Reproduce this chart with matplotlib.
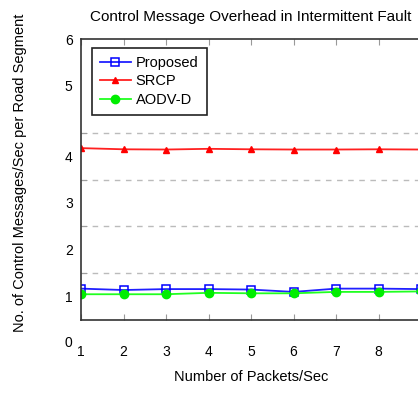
import matplotlib
matplotlib.use("Agg")
import matplotlib.pyplot as plt
from matplotlib.ticker import NullFormatter

plt.rcParams['font.family'] = ['Liberation Sans', 'DejaVu Sans']

packets = [1, 2, 3, 4, 5, 6, 7, 8, 9]
proposed = [1.17, 1.14, 1.16, 1.16, 1.15, 1.10, 1.17, 1.17, 1.16]
srcp = [4.17, 4.145, 4.14, 4.155, 4.145, 4.14, 4.14, 4.145, 4.14]
aodv_d = [1.05, 1.05, 1.05, 1.08, 1.07, 1.07, 1.10, 1.10, 1.11]

ytick_vals = [1, 2, 3, 4, 5.5, 6.5]
ytick_labels = ["1", "2", "3", "4", "5", "6"]
grid_vals = [1.5, 2.5, 3.5, 4.5, 5.5]

fig = plt.figure(figsize=(4.18, 3.94), dpi=100)
ax = fig.add_axes([81/418, 74/394, 340/418, 281/394])

ax.plot(packets, proposed, color='#2020ff', lw=1.3, marker='s', ms=5.2,
        mfc='none', mec='#0000ff', mew=1.1, label='Proposed')
ax.plot(packets, srcp, color='#ff2020', lw=1.3, marker='^', ms=4.5,
        mfc='#ff0000', mec='#ff0000', label='SRCP')
ax.plot(packets, aodv_d, color='#20ff20', lw=1.3, marker='o', ms=6,
        mfc='#00ee00', mec='#00ee00', label='AODV-D')

ax.set_xlim(1, 9)
ax.set_ylim(0.5, 6.5)
ax.set_xticks(packets)
ax.tick_params(axis='x', direction='in', top=True, length=4, width=0.8,
               color='#999999', pad=18, labelsize=10)

ax.set_yticks(ytick_vals, ytick_labels)
ax.set_yticks(grid_vals, minor=True)
ax.yaxis.set_minor_formatter(NullFormatter())
ax.tick_params(axis='y', which='major', length=0, pad=6, labelsize=10)
ax.tick_params(axis='y', which='minor', direction='in', length=4, color='#999999')
ax.text(-0.025, 0.0, "0", transform=ax.get_yaxis_transform(), ha='right',
        va='center', fontsize=10, clip_on=False)
ax.grid(True, axis='y', which='minor', linestyle=(0, (4, 4)), color='#bbbbbb', lw=1)
ax.grid(False, axis='y', which='major')

for s in ax.spines.values():
    s.set_color('#333333')
    s.set_linewidth(1.2)

ax.set_title("Control Message Overhead in Intermittent Fault", fontsize=11, pad=13)
ax.set_xlabel("Number of Packets/Sec", fontsize=10.5, labelpad=8)
ax.set_ylabel("No. of Control Messages/Sec per Road Segment", fontsize=10.5, labelpad=27)
ax.yaxis.label.set_y(0.525)

leg = ax.legend(loc='upper left', bbox_to_anchor=(11/340, 1 - 9/281), borderaxespad=0,
                fancybox=False, framealpha=1, edgecolor='#222222', fontsize=10.5,
                handlelength=2.1, handletextpad=0.35, labelspacing=0.3,
                borderpad=0.55)
leg.get_frame().set_linewidth(1.2)

fig.savefig("out.png", dpi=100)
